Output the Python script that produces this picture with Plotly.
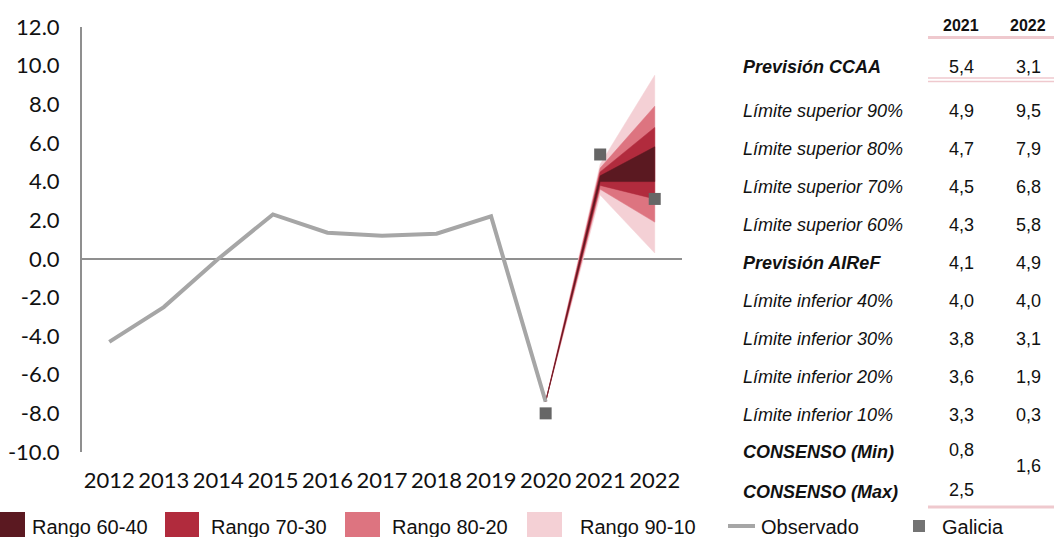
import plotly.graph_objects as go

W, H = 1054, 537

# ---------------- data ----------------
years = [2012, 2013, 2014, 2015, 2016, 2017, 2018, 2019, 2020, 2021, 2022]
obs_years = [2012, 2013, 2014, 2015, 2016, 2017, 2018, 2019, 2020]
observado = [-4.3, -2.5, 0.0, 2.3, 1.35, 1.2, 1.3, 2.2, -7.4]

galicia_years = [2020, 2021, 2022]
galicia = [-8.0, 5.4, 3.1]

fan_years = [2021, 2022]
lim_sup_90 = [4.9, 9.5]
lim_sup_80 = [4.7, 7.9]
lim_sup_70 = [4.5, 6.8]
lim_sup_60 = [4.3, 5.8]
prev_airef = [4.1, 4.9]
lim_inf_40 = [4.0, 4.0]
lim_inf_30 = [3.8, 3.1]
lim_inf_20 = [3.6, 1.9]
lim_inf_10 = [3.3, 0.3]
prev_ccaa = [5.4, 3.1]
consenso_min_2021 = 0.8
consenso_max_2021 = 2.5
consenso_2022 = 1.6

y_ticks = [12, 10, 8, 6, 4, 2, 0, -2, -4, -6, -8, -10]

band_names = ["Rango 90-10", "Rango 80-20", "Rango 70-30", "Rango 60-40"]
band_colors = ["#f4d0d5", "#dd7480", "#b12b3d", "#5b1921"]
band_upper = [lim_sup_90, lim_sup_80, lim_sup_70, lim_sup_60]
band_lower = [lim_inf_10, lim_inf_20, lim_inf_30, lim_inf_40]

table_labels = ["Previsión CCAA", "Límite superior 90%", "Límite superior 80%",
                "Límite superior 70%", "Límite superior 60%", "Previsión AIReF",
                "Límite inferior 40%", "Límite inferior 30%", "Límite inferior 20%",
                "Límite inferior 10%", "CONSENSO (Min)", "CONSENSO (Max)"]
table_bold = [True, False, False, False, False, True, False, False, False, False, True, True]
table_2021 = [prev_ccaa[0], lim_sup_90[0], lim_sup_80[0], lim_sup_70[0], lim_sup_60[0],
              prev_airef[0], lim_inf_40[0], lim_inf_30[0], lim_inf_20[0], lim_inf_10[0],
              consenso_min_2021, consenso_max_2021]
table_2022 = [prev_ccaa[1], lim_sup_90[1], lim_sup_80[1], lim_sup_70[1], lim_sup_60[1],
              prev_airef[1], lim_inf_40[1], lim_inf_30[1], lim_inf_20[1], lim_inf_10[1]]
table_cols = ["2021", "2022"]

# ---------------- helpers (pixel -> paper) ----------------
def px(x):
    return x / W

def py(y):
    return 1 - y / H

def fmt(v):
    return f"{v:.1f}".replace(".", ",")

fig = go.Figure()

# fan bands (drawn widest first)
start_val = observado[-1]
start_year = obs_years[-1]
for name, col, up, lo in zip(band_names, band_colors, band_upper, band_lower):
    xs = [start_year] + fan_years + fan_years[::-1] + [start_year]
    ys = [start_val] + up + lo[::-1] + [start_val]
    fig.add_trace(go.Scatter(x=xs, y=ys, fill="toself", fillcolor=col, mode="lines",
                             line=dict(width=0.5, color=col), name=name,
                             showlegend=False, hoverinfo="skip"))

fig.add_trace(go.Scatter(x=obs_years, y=observado, mode="lines", name="Observado",
                         line=dict(color="#a6a6a6", width=4), showlegend=False))

fig.add_trace(go.Scatter(x=galicia_years, y=galicia, mode="markers", name="Galicia",
                         marker=dict(symbol="square", size=12, color="#666666"),
                         showlegend=False))

x0p, x1p = 82, 682
y0p, y1p = 27, 452
fig.update_layout(
    template="none",
    width=W, height=H,
    margin=dict(l=0, r=0, t=0, b=0, pad=0),
    paper_bgcolor="white", plot_bgcolor="white",
    showlegend=False,
    xaxis=dict(domain=[px(x0p), px(x1p)], range=[years[0] - 0.5, years[-1] + 0.5],
               tickmode="array", tickvals=years, ticktext=[str(y) for y in years],
               showgrid=False, zeroline=False, showline=False, ticks="",
               automargin=False, ticklabelstandoff=13,
               tickfont=dict(family="Lato", size=22, color="#111111")),
    yaxis=dict(domain=[py(y1p), py(y0p)], range=[-10, 12],
               tickmode="array", tickvals=y_ticks, ticktext=[f"{v:.1f}" for v in y_ticks],
               showgrid=False, zeroline=True, zerolinecolor="#8f8f8f", zerolinewidth=2,
               showline=True, linecolor="#8f8f8f", linewidth=2, ticks="",
               automargin=False, ticklabelstandoff=16,
               tickfont=dict(family="Lato", size=22, color="#111111")),
)

shapes = []
ann = []
font_t = "Liberation Sans"

# table header
col_x = [961, 1028]
for cx, t in zip(col_x, table_cols):
    ann.append(dict(x=px(cx), y=py(26), xref="paper", yref="paper", text=f"<b>{t}</b>",
                    showarrow=False, xanchor="center", yanchor="middle",
                    font=dict(family=font_t, size=16, color="#111111")))
pink = "#efc9ce"
shapes.append(dict(type="line", xref="paper", yref="paper", x0=px(928), x1=px(1054),
                   y0=py(37.5), y1=py(37.5), line=dict(color=pink, width=3)))
shapes.append(dict(type="line", xref="paper", yref="paper", x0=px(928), x1=px(1054),
                   y0=py(78), y1=py(78), line=dict(color=pink, width=1.6)))
shapes.append(dict(type="line", xref="paper", yref="paper", x0=px(928), x1=px(1054),
                   y0=py(81.5), y1=py(81.5), line=dict(color=pink, width=1.6)))
shapes.append(dict(type="line", xref="paper", yref="paper", x0=px(928), x1=px(1054),
                   y0=py(507), y1=py(507), line=dict(color=pink, width=3)))

row_y = [67, 111, 149, 187, 225, 263, 301, 339, 377, 415, 452, 492]
for i, (lab, b, yy) in enumerate(zip(table_labels, table_bold, row_y)):
    txt = f"<b><i>{lab}</i></b>" if b else f"<i>{lab}</i>"
    ann.append(dict(x=px(741), y=py(yy), xref="paper", yref="paper", text=txt,
                    showarrow=False, xanchor="left", yanchor="middle",
                    font=dict(family=font_t, size=18, color="#111111")))
    ann.append(dict(x=px(col_x[0]), y=py(yy - 2 if i >= 10 else yy), xref="paper", yref="paper",
                    text=fmt(table_2021[i]), showarrow=False, xanchor="center", yanchor="middle",
                    font=dict(family=font_t, size=18, color="#111111")))
for i, v in enumerate(table_2022):
    yy = row_y[i]
    ann.append(dict(x=px(col_x[1]), y=py(yy), xref="paper", yref="paper",
                    text=fmt(v), showarrow=False, xanchor="center", yanchor="middle",
                    font=dict(family=font_t, size=18, color="#111111")))
ann.append(dict(x=px(col_x[1]), y=py(466), xref="paper", yref="paper",
                text=fmt(consenso_2022), showarrow=False, xanchor="center", yanchor="middle",
                font=dict(family=font_t, size=18, color="#111111")))

# legend (manual)
leg_y = 527
leg_items = [
    ("Rango 60-40", "sq", band_colors[3], -10, 25, 30),
    ("Rango 70-30", "sq", band_colors[2], 165, 199, 209),
    ("Rango 80-20", "sq", band_colors[1], 345, 380, 390),
    ("Rango 90-10", "sq", band_colors[0], 527, 562, 578),
]
for lab, kind, col, sx0, sx1, tx in leg_items:
    shapes.append(dict(type="rect", xref="paper", yref="paper", x0=px(sx0), x1=px(sx1),
                       y0=py(512), y1=py(540), fillcolor=col, line=dict(width=0)))
    ann.append(dict(x=px(tx), y=py(leg_y), xref="paper", yref="paper", text=lab,
                    showarrow=False, xanchor="left", yanchor="middle",
                    font=dict(family=font_t, size=20, color="#111111")))
shapes.append(dict(type="line", xref="paper", yref="paper", x0=px(728), x1=px(755),
                   y0=py(526), y1=py(526), line=dict(color="#a6a6a6", width=4)))
ann.append(dict(x=px(759), y=py(leg_y), xref="paper", yref="paper", text="Observado",
                showarrow=False, xanchor="left", yanchor="middle",
                font=dict(family=font_t, size=20, color="#111111")))
shapes.append(dict(type="rect", xref="paper", yref="paper", x0=px(913), x1=px(925),
                   y0=py(520), y1=py(532), fillcolor="#737373", line=dict(width=0)))
ann.append(dict(x=px(940), y=py(leg_y), xref="paper", yref="paper", text="Galicia",
                showarrow=False, xanchor="left", yanchor="middle",
                font=dict(family=font_t, size=20, color="#111111")))

fig.update_layout(shapes=shapes, annotations=ann)
fig.write_html("out.html", config={"displayModeBar": False},
               post_script="document.body.style.margin='0px';document.body.style.overflow='hidden';")
